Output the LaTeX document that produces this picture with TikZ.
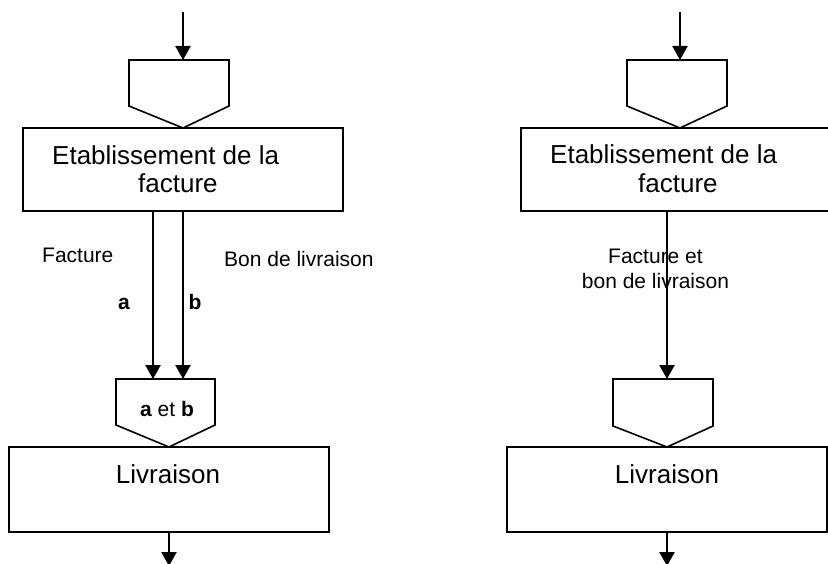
\documentclass[tikz,border=0pt]{standalone}
\usepackage{fontspec}
\setmainfont{Liberation Sans}
\usetikzlibrary{arrows.meta}
\begin{document}
\begin{tikzpicture}[x=1pt,y=-1pt,
  box/.style={draw, line width=1.6pt, minimum width=320pt, inner sep=0pt},
  pent/.style={draw, line width=1.6pt, line join=miter},
  flow/.style={line width=2.6pt, -{Triangle[width=15pt,length=14pt]}},
  big/.style={inner sep=0pt, font=\fontsize{26}{30}\selectfont},
  small/.style={inner sep=0pt, font=\fontsize{21}{25}\selectfont}]
\useasboundingbox (0,0) rectangle (828,564);
\clip (0,0) rectangle (828,564);

% ---------------- left flow ----------------
\coordinate (t1) at (183,12);
\coordinate (p1) at (183,60);
\draw[pent] (129,60) -- (229,60) -- (229,106) -- (183,128) -- (129,106) -- cycle;
\node[box, minimum height=83pt] (e1) at (183,169.5) {};
\node[big, anchor=base west] (e1a) at (52,165) {Etablissement de la};
\node[big, anchor=base west] (e1b) at (138,193) {facture};
\draw[flow] (t1) -- (p1);

\coordinate (pa) at (153,379);
\coordinate (pb) at (183,379);
\draw[pent] (116,379) -- (215,379) -- (215,425) -- (169,447) -- (116,425) -- cycle;
\draw[flow] (e1.south -| pa) -- (pa);
\draw[flow] (e1.south -| pb) -- (pb);
\node[small, anchor=base west] (lf) at (42,263) {Facture};
\node[small, anchor=base west] (lb) at (224,267) {Bon de livraison};
\node[small, anchor=base, font=\fontsize{21}{25}\selectfont\bfseries] (la) at (124,309) {a};
\node[small, anchor=base, font=\fontsize{21}{25}\selectfont\bfseries] (lbb) at (195,309) {b};
\node[small, anchor=base] (lab) at (167,416) {\textbf{a} et \textbf{b}};

\node[box, minimum height=85pt] (l1) at (169,489.5) {};
\node[big, anchor=base] (l1t) at (168,483) {Livraison};
\coordinate (o1) at (169,566);
\draw[flow] (l1.south) -- (o1);

% ---------------- right flow ----------------
\coordinate (t2) at (680,12);
\coordinate (p2) at (680,60);
\draw[pent] (627,60) -- (727,60) -- (727,106) -- (680,128) -- (627,106) -- cycle;
\node[box, minimum height=83pt] (e2) at (681,169.5) {};
\node[big, anchor=base west] (e2a) at (550,164) {Etablissement de la};
\node[big, anchor=base west] (e2b) at (638,193) {facture};
\draw[flow] (t2) -- (p2);

\coordinate (pc) at (667,379);
\draw[pent] (613,379) -- (713,379) -- (713,426) -- (667,447) -- (613,426) -- cycle;
\node[small, anchor=base] (rf1) at (655.5,264) {Facture et};
\node[small, anchor=base] (rf2) at (655.5,289) {bon de livraison};
\draw[flow] (e2.south -| pc) -- (pc);

\node[box, minimum height=85pt] (l2) at (667,489.5) {};
\node[big, anchor=base] (l2t) at (667,483) {Livraison};
\coordinate (o2) at (667,566);
\draw[flow] (l2.south) -- (o2);
\end{tikzpicture}
\end{document}
